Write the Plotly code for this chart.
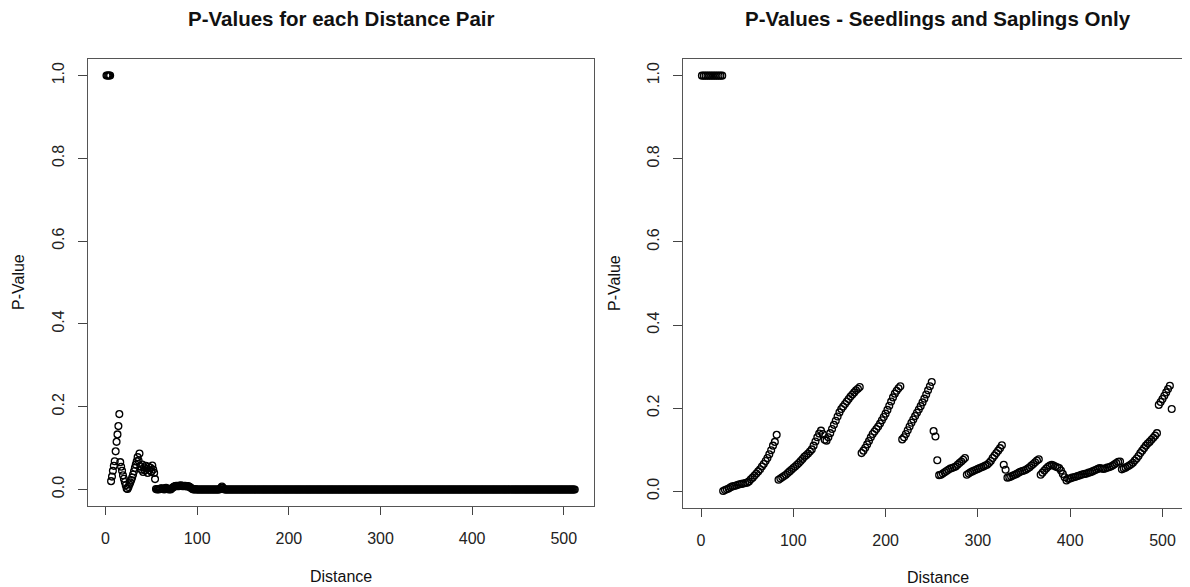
import plotly.graph_objects as go

# ---------------- data: left panel (all distance pairs) ----------------
LEFT_HEAD = [1.0, 1.0, 1.0, 1.0, 1.0,
             0.020, 0.031, 0.045, 0.057, 0.068,
             0.092, 0.115, 0.133, 0.153, 0.182,
             0.066, 0.055, 0.045, 0.034, 0.026,
             0.018, 0.010, 0.002, 0.001, 0.006,
             0.012, 0.017, 0.023, 0.029, 0.036,
             0.044, 0.052, 0.060, 0.068, 0.078,
             0.070, 0.087, 0.056, 0.048, 0.060,
             0.042, 0.053, 0.046, 0.057, 0.050,
             0.040, 0.055, 0.047, 0.052, 0.043,
             0.058, 0.048, 0.040, 0.025]
LEFT_MID = [0.001, 0.000, 0.001, 0.000, 0.001,
            0.002, 0.003, 0.002, 0.001, 0.000,
            0.003, 0.004, 0.002, 0.001, 0.000,
            0.001, 0.000, 0.002, 0.004, 0.006,
            0.007, 0.008, 0.009, 0.008, 0.009,
            0.008, 0.009, 0.010, 0.009, 0.008,
            0.009, 0.008, 0.009, 0.008, 0.007,
            0.008, 0.007, 0.006, 0.004, 0.002,
            0.001, 0.000, 0.000, 0.001, 0.000,
            0.000, 0.000, 0.000, 0.000, 0.000,
            0.000, 0.000, 0.000, 0.000, 0.000,
            0.000, 0.000, 0.000, 0.000, 0.000,
            0.000, 0.000, 0.000, 0.000, 0.000,
            0.000, 0.000, 0.000, 0.000, 0.000,
            0.001, 0.004, 0.007, 0.004, 0.001,
            0.000, 0.000, 0.000, 0.000, 0.000,
            0.000]
LEFT_TAIL = [0.0] * 377          # distances 136..512 read as 0
LEFT_PVAL = LEFT_HEAD + LEFT_MID + LEFT_TAIL
LEFT_DIST = list(range(1, len(LEFT_PVAL) + 1))

# ---------------- data: right panel (seedlings and saplings) ----------------
# each segment: (first distance, p-values at every 2nd distance)
R_ONE = (1, [1.0, 1.0, 1.0, 1.0, 1.0, 1.0, 1.0, 1.0, 1.0, 1.0, 1.0, 1.0])
R_A = (24, [0.001, 0.003, 0.005, 0.007, 0.010, 0.012, 0.013, 0.014, 0.016, 0.017,
            0.018, 0.019, 0.020, 0.021, 0.024, 0.029, 0.033, 0.038, 0.043, 0.048,
            0.053, 0.060, 0.066, 0.073, 0.080, 0.089, 0.099, 0.110, 0.119, 0.136])
R_B = (84, [0.028, 0.031, 0.034, 0.037, 0.040, 0.044, 0.048, 0.052, 0.056, 0.060,
            0.064, 0.068, 0.073, 0.078, 0.083, 0.087, 0.091, 0.096, 0.101, 0.110,
            0.120, 0.130, 0.139, 0.146, 0.138, 0.124, 0.122, 0.130, 0.140, 0.150,
            0.160, 0.170, 0.180, 0.190, 0.198, 0.204, 0.210, 0.216, 0.222, 0.228,
            0.233, 0.238, 0.243, 0.247, 0.251])
R_C = (174, [0.092, 0.098, 0.105, 0.113, 0.121, 0.130, 0.138, 0.144, 0.150, 0.156,
             0.163, 0.171, 0.179, 0.187, 0.196, 0.206, 0.216, 0.226, 0.235, 0.242,
             0.248, 0.253])
R_D = (218, [0.125, 0.130, 0.138, 0.147, 0.156, 0.165, 0.173, 0.181, 0.189, 0.197,
             0.205, 0.214, 0.223, 0.233, 0.243, 0.253, 0.263])
R_D2 = (252, [0.145, 0.132, 0.075])
R_E = (258, [0.039, 0.040, 0.043, 0.046, 0.049, 0.052, 0.055, 0.056, 0.058, 0.060,
             0.064, 0.068, 0.072, 0.076, 0.080])
R_F = (288, [0.040, 0.043, 0.046, 0.048, 0.050, 0.052, 0.054, 0.056, 0.058, 0.060,
             0.062, 0.064, 0.068, 0.073, 0.080, 0.086, 0.092, 0.098, 0.104, 0.111])
R_F2 = (328, [0.064, 0.052])
R_G = (332, [0.033, 0.034, 0.036, 0.038, 0.040, 0.042, 0.045, 0.047, 0.049, 0.050,
             0.052, 0.055, 0.058, 0.062, 0.066, 0.070, 0.074, 0.077])
R_H = (368, [0.040, 0.045, 0.050, 0.055, 0.059, 0.062, 0.064, 0.062, 0.060, 0.058,
             0.056, 0.050, 0.042, 0.034, 0.026])
R_I = (398, [0.030, 0.031, 0.033, 0.034, 0.035, 0.037, 0.038, 0.040, 0.041, 0.042,
             0.043, 0.045, 0.046, 0.048, 0.050, 0.052, 0.054, 0.056, 0.055, 0.054,
             0.055, 0.057, 0.058, 0.060, 0.062, 0.065, 0.068, 0.071, 0.072])
R_I2 = (456, [0.053, 0.055, 0.057, 0.060, 0.062, 0.065, 0.069, 0.074, 0.079, 0.085,
              0.092, 0.098, 0.104, 0.110, 0.115, 0.119, 0.124, 0.129, 0.134, 0.140])
R_J = (496, [0.208, 0.215, 0.222, 0.230, 0.238, 0.246, 0.254])
R_K = (510, [0.198])
RIGHT_SEGMENTS = [R_ONE, R_A, R_B, R_C, R_D, R_D2, R_E, R_F, R_F2, R_G, R_H,
                  R_I, R_I2, R_J, R_K]

RIGHT_DIST, RIGHT_PVAL = [], []
for start, vals in RIGHT_SEGMENTS:
    for i, v in enumerate(vals):
        RIGHT_DIST.append(start + 2 * i)
        RIGHT_PVAL.append(v)

X_TICKS = [0, 100, 200, 300, 400, 500]
Y_TICKS = [0.0, 0.2, 0.4, 0.6, 0.8, 1.0]
Y_TICK_TEXT = ["0.0", "0.2", "0.4", "0.6", "0.8", "1.0"]

TITLE_LEFT = "P-Values for each Distance Pair"
TITLE_RIGHT = "P-Values - Seedlings and Saplings Only"
XLABEL = "Distance"
YLABEL = "P-Value"

# ---------------- figure ----------------
# the page body has an 8px margin, so the figure is drawn 8px smaller and
# positions below are given in window pixels and shifted by that offset
OFF = 8
W, H = 1190 - OFF, 587 - OFF
FONT = "Liberation Sans, Arial, sans-serif"

def px_x(p):
    return (p - OFF) / W

def px_y(p):
    return (H - (p - OFF)) / H

marker = dict(symbol="circle-open", size=6.8, color="black",
              line=dict(width=1.3, color="black"))

fig = go.Figure()
fig.add_trace(go.Scatter(x=LEFT_DIST, y=LEFT_PVAL, mode="markers", marker=marker,
                         xaxis="x", yaxis="y", showlegend=False, hoverinfo="x+y"))
fig.add_trace(go.Scatter(x=RIGHT_DIST, y=RIGHT_PVAL, mode="markers", marker=marker,
                         xaxis="x2", yaxis="y2", showlegend=False, hoverinfo="x+y"))

common_x = dict(tickvals=X_TICKS, ticks="outside", ticklen=8, tickwidth=1.2,
                tickcolor="#444", showline=True, linecolor="#555", linewidth=1.4,
                showgrid=False, zeroline=False, automargin=False,
                tickfont=dict(family=FONT, size=16, color="#222"),
                ticklabelstandoff=10)
common_y = dict(tickvals=Y_TICKS, ticktext=Y_TICK_TEXT, tickangle=-90,
                ticks="outside", ticklen=9, tickwidth=1.2, tickcolor="#444",
                showline=True, linecolor="#555", linewidth=1.4,
                showgrid=False, zeroline=False, automargin=False,
                tickfont=dict(family=FONT, size=16, color="#222"),
                range=[-0.04, 1.04], ticklabelstandoff=7)

fig.update_layout(
    width=W, height=H, autosize=False,
    margin=dict(l=0, r=0, t=0, b=0),
    paper_bgcolor="white", plot_bgcolor="white",
    xaxis=dict(domain=[px_x(87.7), px_x(594)], range=[-19.5, 533],
               anchor="y", mirror=True, **common_x),
    yaxis=dict(domain=[px_y(506), px_y(59)], anchor="x", mirror=True, **common_y),
    xaxis2=dict(domain=[px_x(683), 1.0], range=[-19.5, 529.8],
                anchor="y2", mirror=True, **common_x),
    yaxis2=dict(domain=[px_y(508), px_y(59)], anchor="x2", mirror=False, **common_y),
)

ann = [
    dict(text="<b>%s</b>" % TITLE_LEFT, x=px_x(341), y=px_y(18), size=20.5),
    dict(text="<b>%s</b>" % TITLE_RIGHT, x=px_x(938), y=px_y(18), size=20.5),
    dict(text=XLABEL, x=px_x(341), y=px_y(576), size=16),
    dict(text=XLABEL, x=px_x(938), y=px_y(577), size=16),
    dict(text=YLABEL, x=px_x(18), y=px_y(282), size=16, angle=-90),
    dict(text=YLABEL, x=px_x(615), y=px_y(283), size=16, angle=-90),
]
for a in ann:
    fig.add_annotation(text=a["text"], x=a["x"], y=a["y"], xref="paper", yref="paper",
                       xanchor="center", yanchor="middle", showarrow=False,
                       textangle=a.get("angle", 0),
                       font=dict(family=FONT, size=a["size"], color="#111"))

fig.write_html("out.html")
